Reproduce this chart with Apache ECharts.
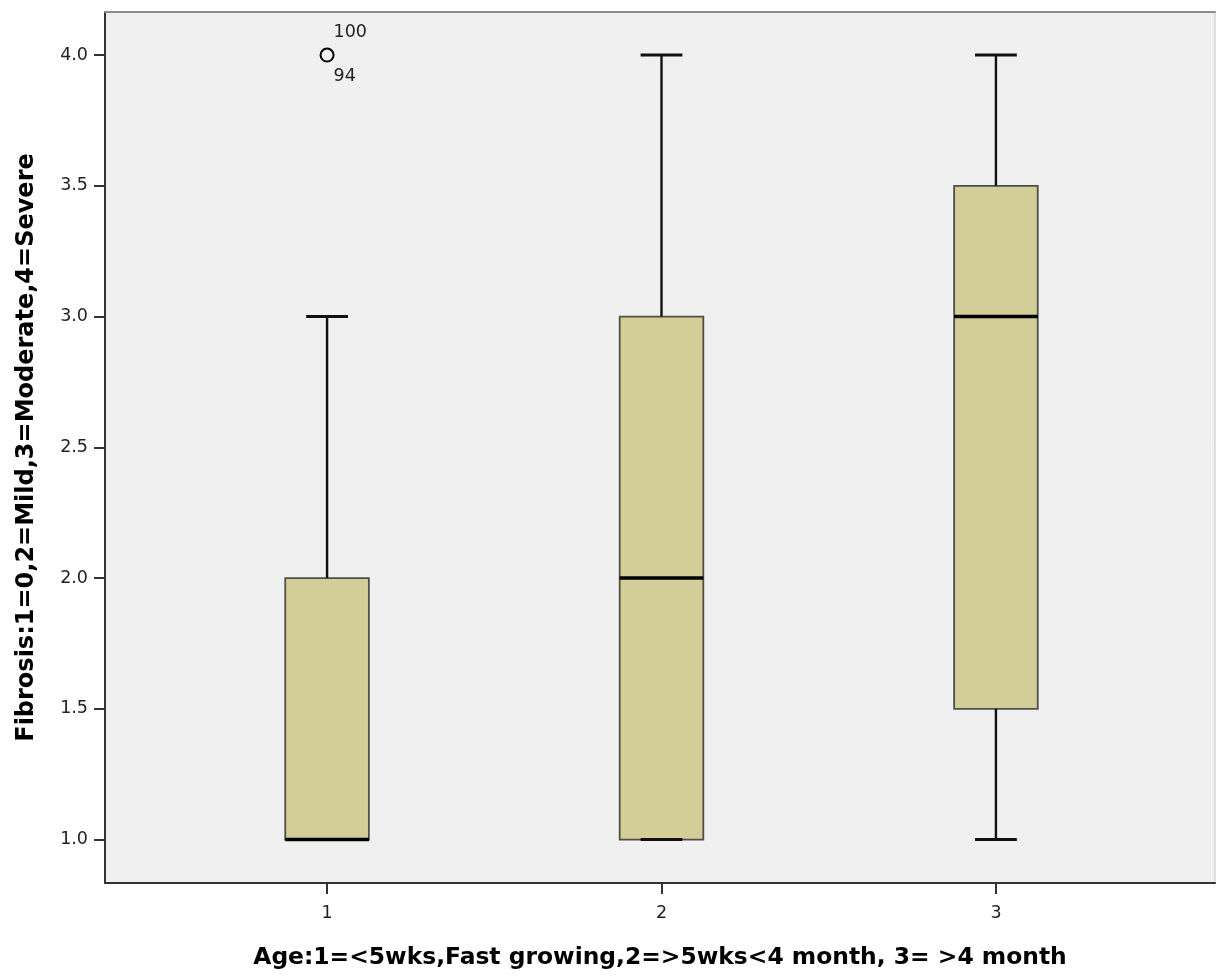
<!DOCTYPE html>
<html>
<head>
<meta charset="utf-8">
<script src="https://cdn.jsdelivr.net/npm/echarts@6/dist/echarts.min.js"></script>
<style>
html,body{margin:0;padding:0;background:#fff;}
#chart{width:1216px;height:978px;}
</style>
</head>
<body>
<div id="chart"></div>
<script>
// ---- data ----
const categories   = [1, 2, 3];
const whiskerLow   = [1, 1, 1];
const quartile1    = [1, 1, 1.5];
const medians      = [1, 2, 3];
const quartile3    = [2, 3, 3.5];
const whiskerHigh  = [3, 4, 4];
const outlierX     = [1];
const outlierY     = [4];
const outlierIdsAbove = ['100'];
const outlierIdsBelow = ['94'];
const yTicks = [1.0, 1.5, 2.0, 2.5, 3.0, 3.5, 4.0];
const xTicks = [1, 2, 3];
const xTitle = 'Age:1=<5wks,Fast growing,2=>5wks<4 month, 3= >4 month';
const yTitle = 'Fibrosis:1=0,2=Mild,3=Moderate,4=Severe';

const boxData = categories.map((c, i) => [c, whiskerLow[i], quartile1[i], medians[i], quartile3[i], whiskerHigh[i]]);
const outlierData = outlierX.map((x, i) => [x, outlierY[i]]);

const BOX_W = 0.25, CAP_W = 0.125;
function renderBox(params, api) {
  const x = api.value(0);
  const lo = api.coord([x, api.value(1)]);
  const q1 = api.coord([x, api.value(2)]);
  const md = api.coord([x, api.value(3)]);
  const q3 = api.coord([x, api.value(4)]);
  const hi = api.coord([x, api.value(5)]);
  const bw = api.size([BOX_W, 0])[0];
  const cw = api.size([CAP_W, 0])[0];
  const cx = md[0];
  const blk = {stroke: '#111', lineWidth: 2.4};
  const cap = {stroke: '#111', lineWidth: 3};
  return {
    type: 'group',
    children: [
      {type: 'rect', shape: {x: cx - bw / 2, y: q3[1], width: bw, height: q1[1] - q3[1]},
       style: {fill: '#d3ce98', stroke: '#4f4f46', lineWidth: 1.8}},
      {type: 'line', shape: {x1: cx, y1: q3[1], x2: cx, y2: hi[1]}, style: blk},
      {type: 'line', shape: {x1: cx, y1: q1[1], x2: cx, y2: lo[1]}, style: blk},
      {type: 'line', shape: {x1: cx - cw / 2, y1: hi[1], x2: cx + cw / 2, y2: hi[1]}, style: cap},
      {type: 'line', shape: {x1: cx - cw / 2, y1: lo[1], x2: cx + cw / 2, y2: lo[1]}, style: cap},
      {type: 'line', shape: {x1: cx - bw / 2, y1: md[1], x2: cx + bw / 2, y2: md[1]}, style: {stroke: '#000', lineWidth: 3.5}}
    ]
  };
}

const chart = echarts.init(document.getElementById('chart'), null, {renderer: 'canvas'});
const tickFont = {fontFamily: 'DejaVu Sans', fontSize: 17.5, color: '#222'};
chart.setOption({
  backgroundColor: '#fff',
  animation: false,
  grid: {left: 105, right: 1, top: 12, bottom: 95, show: true, backgroundColor: '#f0f0f0',
         borderColor: '#c4c4c4', borderWidth: 1},
  xAxis: [{
    type: 'value', min: 0.336, max: 3.655, position: 'bottom',
    name: xTitle, nameLocation: 'middle', nameGap: 63,
    nameTextStyle: {fontFamily: 'DejaVu Sans', fontWeight: 'bold', fontSize: 23.4, color: '#000'},
    splitLine: {show: false},
    axisLine: {show: true, onZero: false, lineStyle: {color: '#333', width: 2}},
    axisTick: {show: true, length: 11, customValues: xTicks, lineStyle: {color: '#333', width: 2}},
    axisLabel: Object.assign({margin: 21, customValues: xTicks, formatter: v => String(v)}, tickFont)
  }, {
    type: 'value', min: 0.336, max: 3.655, position: 'top',
    splitLine: {show: false}, axisTick: {show: false}, axisLabel: {show: false},
    axisLine: {show: true, onZero: false, lineStyle: {color: '#8c8c8c', width: 2}}
  }],
  yAxis: [{
    type: 'value', min: 0.834, max: 4.1645, position: 'left',
    name: yTitle, nameLocation: 'middle', nameGap: 66, nameRotate: 90,
    nameTextStyle: {fontFamily: 'DejaVu Sans', fontWeight: 'bold', fontSize: 24, color: '#000'},
    splitLine: {show: false},
    axisLine: {show: true, onZero: false, lineStyle: {color: '#333', width: 2}},
    axisTick: {show: true, length: 11, customValues: yTicks, lineStyle: {color: '#333', width: 2}},
    axisLabel: Object.assign({margin: 17, customValues: yTicks, formatter: v => v.toFixed(1)}, tickFont)
  }],
  series: [{
    type: 'custom', renderItem: renderBox, data: boxData,
    encode: {x: 0, y: [1, 2, 3, 4, 5]}, z: 2
  }, {
    type: 'scatter', data: outlierData, symbol: 'circle', symbolSize: 13, z: 3,
    itemStyle: {color: 'rgba(0,0,0,0)', borderColor: '#000', borderWidth: 2, opacity: 1},
    label: {show: true, position: 'right', distance: 0, offset: [-1, -1],
            formatter: p => '{t|' + outlierIdsAbove[p.dataIndex] + '}\n{g|}\n{t|' + outlierIdsBelow[p.dataIndex] + '}',
            rich: {t: {fontFamily: 'DejaVu Sans', fontSize: 17.5, color: '#222', lineHeight: 20},
                   g: {lineHeight: 24, fontSize: 10}}}
  }]
});
</script>
</body>
</html>
